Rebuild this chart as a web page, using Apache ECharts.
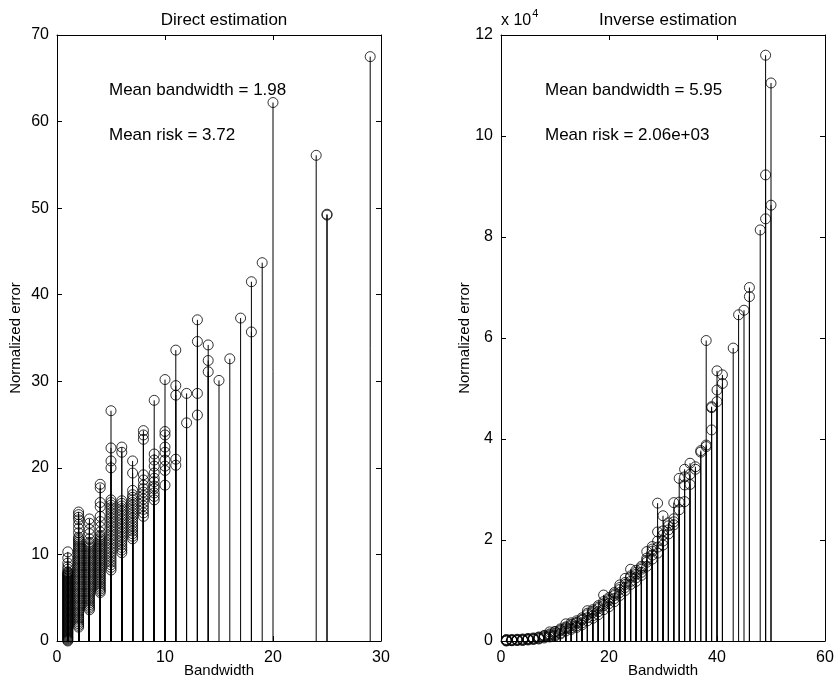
<!DOCTYPE html>
<html>
<head>
<meta charset="utf-8">
<script src="https://cdn.jsdelivr.net/npm/echarts@6/dist/echarts.min.js"></script>
<style>
  html, body { margin: 0; padding: 0; background: #fff; }
  #chart { width: 836px; height: 686px; }
</style>
</head>
<body>
<div id="chart"></div>
<script>
// Direct estimation: normalized error per bandwidth (several runs land on the same bandwidth)
const directBandwidths = [1, 2, 3, 4, 5, 6, 7, 8, 9, 10, 11, 12, 13, 14, 15, 16, 17, 18, 19, 20, 24, 25, 29];
const directErrors = [
  [10.3, 9.6, 9.0, 8.6, 8.3, 8.0, 7.9, 7.8, 7.7, 7.6, 7.5, 7.4, 7.3, 7.2, 7.1, 7.0, 6.9, 6.8, 6.7, 6.6, 6.5, 6.4, 6.3, 6.2, 6.1, 6.0,
   5.9, 5.8, 5.7, 5.6, 5.5, 5.4, 5.3, 5.2, 5.1, 5.0, 4.9, 4.8, 4.7, 4.6, 4.5, 4.4, 4.3, 4.2, 4.1, 4.0,
   3.9, 3.8, 3.7, 3.6, 3.5, 3.4, 3.3, 3.2, 3.1, 3.0, 2.9, 2.8, 2.7, 2.6, 2.5, 2.4, 2.3, 2.2, 2.1, 2.0,
   1.9, 1.8, 1.7, 1.6, 1.5, 1.4, 1.3, 1.2, 1.1, 1.0, 0.9, 0.8, 0.7, 0.6, 0.5, 0.4, 0.3, 0.2, 0.1, 0.0],
  [14.9, 14.6, 14.3, 14.0, 13.5, 13.0, 12.5, 12.0, 11.8, 11.6, 11.4, 11.2, 11.0, 10.8, 10.6, 10.4, 10.2, 10.0,
   9.8, 9.6, 9.4, 9.2, 9.0, 8.8, 8.6, 8.4, 8.2, 8.0, 7.8, 7.6, 7.4, 7.2, 7.0, 6.8, 6.6, 6.4, 6.2, 6.0,
   5.8, 5.6, 5.4, 5.2, 5.0, 4.8, 4.6, 4.4, 4.2, 4.0, 3.8, 3.6, 3.4, 3.2, 3.0, 2.8, 2.6, 2.4, 2.2, 2.0, 1.8, 1.6],
  [14.1, 13.6, 12.9, 12.4, 11.8, 11.4, 11.2, 11.0, 10.8, 10.6, 10.4, 10.2, 10.0, 9.8, 9.6, 9.4, 9.2, 9.0,
   8.8, 8.6, 8.4, 8.2, 8.0, 7.8, 7.6, 7.4, 7.2, 7.0, 6.8, 6.6, 6.4, 6.2, 6.0, 5.8, 5.6, 5.4, 5.2, 5.0,
   4.8, 4.6, 4.4, 4.2, 4.0, 3.8, 3.6],
  [18.1, 17.7, 16.0, 15.5, 14.4, 13.8, 13.2, 12.6, 12.2, 12.0, 11.8, 11.6, 11.4, 11.2, 11.0, 10.8, 10.6, 10.4,
   10.2, 10.0, 9.8, 9.6, 9.4, 9.2, 9.0, 8.8, 8.6, 8.4, 8.2, 8.0, 7.8, 7.6, 7.4, 7.2, 7.0, 6.8, 6.6, 6.4,
   6.2, 6.0, 5.8, 5.6],
  [26.6, 22.3, 20.8, 20.0, 16.3, 16.0, 15.7, 15.4, 15.1, 14.8, 14.5, 14.2, 13.9, 13.6, 13.3, 13.0, 12.7, 12.4,
   12.1, 11.8, 11.5, 11.2, 10.9, 10.6, 10.3, 10.0, 9.7, 9.4, 9.1, 8.8, 8.5, 8.2],
  [22.4, 21.8, 16.2, 15.9, 15.6, 15.3, 15.0, 14.7, 14.4, 14.1, 13.8, 13.5, 13.2, 12.9, 12.6, 12.3, 12.0, 11.7,
   11.4, 11.1, 10.8, 10.5, 10.2],
  [20.8, 19.4, 17.4, 16.9, 16.6, 16.3, 16.0, 15.7, 15.4, 15.1, 14.8, 14.5, 14.2, 13.9, 13.6, 13.3, 13.0, 12.7,
   12.4, 12.1, 11.8],
  [24.3, 23.8, 23.3, 19.2, 18.6, 18.0, 17.6, 17.2, 16.8, 16.4, 16.0, 15.6, 15.2, 14.8, 14.4],
  [27.8, 21.6, 20.9, 20.2, 19.4, 18.8, 18.4, 17.9, 17.6, 17.1, 16.7, 16.3],
  [30.2, 24.2, 23.8, 22.4, 21.8, 20.9, 20.2, 19.7, 18.0],
  [33.6, 29.5, 28.4, 21.0, 20.3],
  [28.6, 25.2],
  [37.1, 34.6, 28.6, 26.1],
  [34.2, 32.4, 31.1],
  [30.1],
  [32.6],
  [37.3],
  [41.5, 35.7],
  [43.7],
  [62.2],
  [56.1],
  [49.3, 49.2],
  [67.5]
];

// Inverse estimation: normalized error per bandwidth
const inverseBandwidths = [1, 2, 3, 4, 5, 6, 7, 8, 9, 10, 11, 12, 13, 14, 15, 16, 17, 18, 19, 20, 21, 22, 23, 24, 25, 26, 27, 28, 29, 30, 31, 32, 33, 34, 35, 36, 37, 38, 39, 40, 41, 43, 44, 45, 46, 48, 49, 50];
const inverseErrors = [
  [300, 200, 100, 50, 0], [300, 200, 100, 50], [350, 250, 150, 100], [400, 300, 200, 100], [500, 400, 300, 200],
  [600, 500, 400, 300], [800, 700, 500, 400], [1100, 1000, 800, 600], [1800, 1400, 1200, 1000, 800],
  [1900, 1800, 1500, 1200, 1000], [2400, 2200, 2000, 1600, 1400], [3400, 2800, 2600, 2400, 2000],
  [3600, 3300, 3000, 2600, 2300], [4000, 3700, 3500, 3000, 2700], [4600, 4300, 4100, 3600, 3200],
  [6000, 5500, 5200, 4600, 4000], [6200, 5900, 5600, 5000, 4500], [7000, 6700, 6400, 5800, 5200],
  [9100, 7800, 7400, 7000, 6200], [8600, 8300, 8000, 7400, 6800], [9600, 9300, 9000, 8400, 7800],
  [11100, 10600, 10200, 9600, 9000], [12400, 11600, 11200, 10600, 10000], [14200, 12900, 12600, 11800, 11200],
  [14000, 13600, 13200, 12500, 11800], [14800, 14500, 14200, 13600, 13000], [17700, 16400, 16000, 15600, 14800],
  [18700, 18200, 17800, 17000, 16200], [27300, 21600, 19800, 18600, 17400], [24800, 21800, 21000, 19800, 19000],
  [23400, 22800, 22000, 21200], [27400, 24200, 23600, 23000], [32200, 27500, 26000], [34000, 32500, 30900, 27600],
  [35200, 33000, 31000], [34500, 34000], [37700, 37400], [59500, 38800, 38500], [46400, 46200, 41800],
  [53500, 49700, 47400], [52700, 51000], [58000], [64600], [65500], [70000, 68200], [81400],
  [116000, 92300, 83600], [110500, 86300]
];

function flatten(bws, errs) {
  const pts = [];
  bws.forEach((b, i) => errs[i].forEach(v => pts.push([b, v])));
  return pts;
}
const directPts = flatten(directBandwidths, directErrors);
const inversePts = flatten(inverseBandwidths, inverseErrors);

const FONT = 'Liberation Sans, Arial, Helvetica, sans-serif';
const txt = { color: '#000', fontFamily: FONT, fontSize: 16 };

// each panel is a closed box: main axis with labels plus a bare mirror axis, ticks pointing in
function boxAxes(gridIndex, type, min, max, interval, fmt, extra) {
  const line = { show: true, onZero: false, lineStyle: { color: '#000', width: 1 } };
  const tick = { show: true, inside: true, length: 5, lineStyle: { color: '#000' } };
  const main = Object.assign({
    gridIndex, type: 'value', min, max, interval,
    axisLine: line, axisTick: tick, splitLine: { show: false },
    axisLabel: Object.assign({ formatter: fmt, margin: type === 'x' ? 9 : 8 }, txt),
    nameMoveOverlap: false,
    nameTextStyle: Object.assign({}, txt, { fontSize: 15 })
  }, extra);
  const mirror = {
    gridIndex, type: 'value', min, max, interval,
    position: type === 'x' ? 'top' : 'right',
    axisLine: line, axisTick: tick, splitLine: { show: false },
    axisLabel: { show: false }
  };
  return [main, mirror];
}

const stem = (params, api) => {
  const top = api.coord([api.value(0), api.value(1)]);
  const base = api.coord([api.value(0), 0]);
  return {
    type: 'line',
    shape: { x1: base[0], y1: base[1], x2: top[0], y2: top[1] },
    style: { stroke: '#000', lineWidth: 1 }
  };
};

const dx = boxAxes(0, 'x', 0, 30, 10, null, { name: 'Bandwidth', nameLocation: 'middle', nameGap: 22 });
const dy = boxAxes(0, 'y', 0, 70, 10, null, { name: 'Normalized error', nameLocation: 'middle', nameGap: 34 });
const ix = boxAxes(1, 'x', 0, 60, 20, null, { name: 'Bandwidth', nameLocation: 'middle', nameGap: 22 });
const iy = boxAxes(1, 'y', 0, 120000, 20000, v => String(v / 10000), { name: 'Normalized error', nameLocation: 'middle', nameGap: 29 });

const circle = {
  type: 'scatter', symbol: 'circle', symbolSize: 10,
  itemStyle: { color: 'rgba(0,0,0,0)', borderColor: '#000', borderWidth: 1 },
  z: 3, silent: true
};

const note = s => ({ text: s, fill: '#000', font: '17px ' + FONT });

const option = {
  animation: false,
  backgroundColor: '#fff',
  title: [
    { text: 'Direct estimation', left: 219, top: 7, textAlign: 'center', textStyle: Object.assign({}, txt, { fontWeight: 'normal', fontSize: 17 }) },
    { text: 'Inverse estimation', left: 663, top: 7, textAlign: 'center', textStyle: Object.assign({}, txt, { fontWeight: 'normal', fontSize: 17 }) }
  ],
  grid: [
    { left: 57, right: 455, top: 35, bottom: 45, outerBoundsMode: 'none' },
    { left: 501, right: 11, top: 35, bottom: 45, outerBoundsMode: 'none' }
  ],
  xAxis: [dx[0], dx[1], ix[0], ix[1]],
  yAxis: [dy[0], dy[1], iy[0], iy[1]],
  graphic: [
    { type: 'text', left: 109, top: 82, style: note('Mean bandwidth = 1.98') },
    { type: 'text', left: 109, top: 127, style: note('Mean risk = 3.72') },
    { type: 'text', left: 545, top: 82, style: note('Mean bandwidth = 5.95') },
    { type: 'text', left: 545, top: 127, style: note('Mean risk = 2.06e+03') },
    {
      type: 'text', left: 501, top: 8,
      style: {
        text: '{a|x 10}{b|4}',
        rich: {
          a: { fill: '#000', fontSize: 16, fontFamily: FONT, padding: [8, 0, 0, 0] },
          b: { fill: '#000', fontSize: 11, fontFamily: FONT, padding: [0, 0, 6, 1] }
        }
      }
    }
  ],
  series: [
    { type: 'custom', xAxisIndex: 0, yAxisIndex: 0, renderItem: stem, data: directPts, z: 2, silent: true },
    Object.assign({ xAxisIndex: 0, yAxisIndex: 0, data: directPts }, circle),
    { type: 'custom', xAxisIndex: 2, yAxisIndex: 2, renderItem: stem, data: inversePts, z: 2, silent: true },
    Object.assign({ xAxisIndex: 2, yAxisIndex: 2, data: inversePts }, circle)
  ]
};

const chart = echarts.init(document.getElementById('chart'));
chart.setOption(option);
</script>
</body>
</html>
